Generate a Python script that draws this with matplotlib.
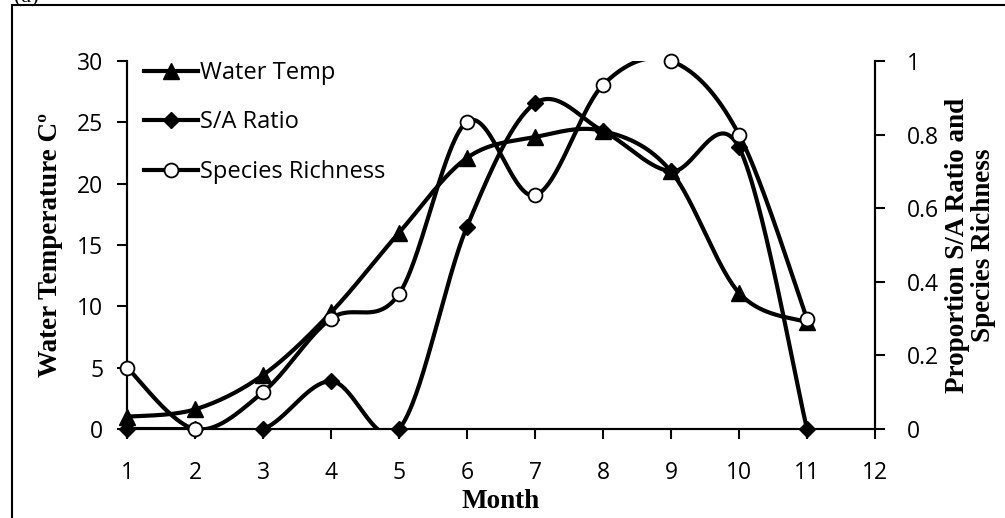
import numpy as np
import matplotlib
matplotlib.use("Agg")
import matplotlib.pyplot as plt
from matplotlib.lines import Line2D
from matplotlib.patches import Rectangle

months = [1, 2, 3, 4, 5, 6, 7, 8, 9, 10, 11]
water_temp = [1.0, 1.6, 4.4, 9.5, 16.0, 22.1, 23.8, 24.3, 21.0, 11.1, 8.7]
sa_ratio = [0, 0, 0, 0.13, 0, 0.55, 0.885, 0.81, 0.70, 0.765, 0]
species_richness = [0.167, 0, 0.10, 0.30, 0.367, 0.835, 0.635, 0.935, 1.0, 0.80, 0.30]

x_ticks = list(range(1, 13))
left_ticks = [0, 5, 10, 15, 20, 25, 30]
right_ticks = [0, 0.2, 0.4, 0.6, 0.8, 1.0]
right_labels = ["0", "0.2", "0.4", "0.6", "0.8", "1"]

TICK_FONT = "Open Sans"
SERIF = "Liberation Serif"
TICK_SIZE = 16.5
LABEL_SIZE = 19.5


def excel_smooth(x, y, n=60):
    """Catmull-Rom style Bezier smoothing similar to Excel's smoothed lines."""
    P = np.column_stack([x, y]).astype(float)
    m = len(P)
    out = []
    t = np.linspace(0, 1, n)[:, None]
    for i in range(m - 1):
        p0 = P[i - 1] if i > 0 else P[i]
        p1 = P[i]
        p2 = P[i + 1]
        p3 = P[i + 2] if i + 2 < m else P[i + 1]
        c1 = p1 + (p2 - p0) / 6.0
        c2 = p2 - (p3 - p1) / 6.0
        seg = ((1 - t) ** 3) * p1 + 3 * ((1 - t) ** 2) * t * c1 + 3 * (1 - t) * t ** 2 * c2 + t ** 3 * p2
        out.append(seg if i == 0 else seg[1:])
    c = np.vstack(out)
    return c[:, 0], c[:, 1]


fig = plt.figure(figsize=(10.05, 5.18), dpi=100)
ax = fig.add_axes([127 / 1005, 89 / 518, 748 / 1005, 368 / 518])
ax2 = ax.twinx()

LW = 3.0
# Water temp (left axis)
sx, sy = excel_smooth(months, water_temp)
ax.plot(sx, sy, color="black", lw=LW, zorder=2)
ax.plot(months, water_temp, linestyle="none", marker="^", markersize=11,
        color="black", clip_on=False, zorder=3)

# S/A ratio (right axis)
sx, sy = excel_smooth(months, sa_ratio)
ax2.plot(sx, sy, color="black", lw=LW, zorder=2)
ax2.plot(months, sa_ratio, linestyle="none", marker="D", markersize=8,
         color="black", clip_on=False, zorder=3)

# Species richness (right axis)
sx, sy = excel_smooth(months, species_richness)
ax2.plot(sx, sy, color="black", lw=LW, zorder=2)
ax2.plot(months, species_richness, linestyle="none", marker="o", markersize=10,
         markerfacecolor="white", markeredgecolor="black", markeredgewidth=1.3,
         clip_on=False, zorder=4)

ax.set_xlim(1, 12)
ax.set_ylim(0, 30)
ax2.set_ylim(0, 1)
ax.set_xticks(x_ticks)
ax.set_yticks(left_ticks)
ax2.set_yticks(right_ticks)
ax2.set_yticklabels(right_labels)

for a in (ax, ax2):
    a.spines["top"].set_visible(False)
    for s in ("left", "right", "bottom"):
        a.spines[s].set_linewidth(1.5)
    a.patch.set_visible(False)

ax.tick_params(axis="x", direction="out", length=7, width=1.5, pad=16,
               labelsize=TICK_SIZE)
ax.tick_params(axis="y", direction="out", length=7, width=1.5, pad=10,
               labelsize=TICK_SIZE)
ax2.tick_params(axis="y", direction="out", length=7, width=1.5, pad=16,
                labelsize=TICK_SIZE)
for lab in ax.get_xticklabels() + ax.get_yticklabels() + ax2.get_yticklabels():
    lab.set_fontfamily(TICK_FONT)

ax.set_xlabel("Month", fontfamily=SERIF, fontweight="bold", fontsize=LABEL_SIZE,
              labelpad=3)
ax.set_ylabel("Water Temperature Cº", fontfamily=SERIF, fontweight="bold",
              fontsize=LABEL_SIZE, labelpad=10)
ax2.set_ylabel("Proportion S/A Ratio and\nSpecies Richness", fontfamily=SERIF,
               fontweight="bold", fontsize=LABEL_SIZE, labelpad=4, rotation=90,
               linespacing=1.05)

handles = [
    Line2D([], [], color="black", lw=LW, marker="^", markersize=11),
    Line2D([], [], color="black", lw=LW, marker="D", markersize=8),
    Line2D([], [], color="black", lw=LW, marker="o", markersize=10,
           markerfacecolor="white", markeredgewidth=1.3),
]
leg = ax2.legend(handles, ["Water Temp", "S/A Ratio", "Species Richness"],
                 loc="upper left", bbox_to_anchor=(0.0, 1.045), frameon=False,
                 handlelength=2.3, handletextpad=0.1, labelspacing=1.08,
                 borderaxespad=0.3, prop={"family": TICK_FONT, "size": 17})

fig.add_artist(Rectangle((12 / 1005, -0.2), 1.5, 0.2 + 513 / 518,
                         transform=fig.transFigure, fill=False,
                         edgecolor="black", lw=1.5))
fig.text(14 / 1005, 1 - 2 / 518, "(a)", fontfamily=SERIF, fontsize=16,
         va="baseline", ha="left")

fig.savefig("out.png", dpi=100)
